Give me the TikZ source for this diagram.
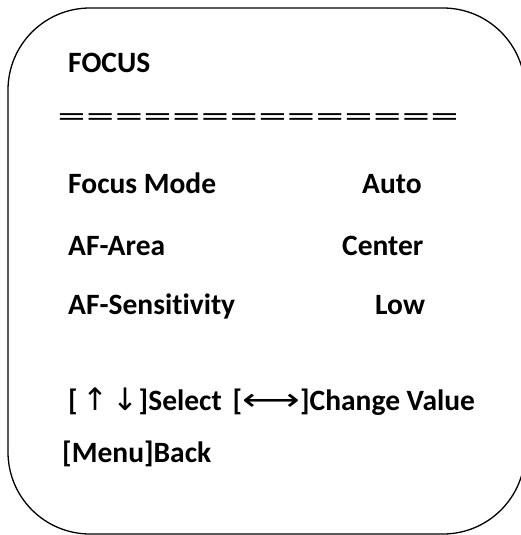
\documentclass[tikz,border=0pt]{standalone}
\usepackage{fontspec}
\setmainfont[Ligatures=NoCommon]{Carlito}
\newfontfamily\arrowfont{DejaVu Sans}
\newcommand\eqbar{\makebox[28.7pt]{\scalebox{1.9}[1]{=}}}
\newcommand\arr[1]{{\arrowfont\mdseries\fontsize{31}{32}\selectfont #1}}
\begin{document}
\begin{tikzpicture}[x=1pt,y=1pt,
  lbl/.style={anchor=base west, inner sep=0pt, font=\fontsize{29.5}{31}\selectfont\bfseries},
  frame/.style={draw=black, line width=1.3pt, rounded corners=82pt}]
\useasboundingbox (0,0) rectangle (520,-535);
\draw[frame] (8,-8) rectangle (525,-534);
\node[lbl] (title) at (68,-72) {FOCUS};
\node[anchor=west, inner sep=0pt, font=\fontsize{30}{32}\selectfont] (sep) at (57,-120) {\eqbar\eqbar\eqbar\eqbar\eqbar\eqbar\eqbar\eqbar\eqbar\eqbar\eqbar\eqbar\eqbar\eqbar};
\node[lbl] (fm) at (68,-193) {Focus Mode};
\node[lbl] (fmv) at (362,-193) {Auto};
\node[lbl] (aa) at (68,-255) {AF-Area};
\node[lbl] (aav) at (342,-255) {Center};
\node[lbl] (as) at (68,-314) {AF-Sensitivity};
\node[lbl] (asv) at (375,-314) {Low};
\node[lbl] (sel) at (68,-410) {[\hspace{5pt}\arr{↑}\hspace{4pt}\arr{↓}\hspace{0pt}]Select\hspace{11pt}[\scalebox{1.3}[1]{\arr{⟷}}]Change Value};
\node[lbl] (back) at (62,-462) {[Menu]Back};
\end{tikzpicture}
\end{document}
